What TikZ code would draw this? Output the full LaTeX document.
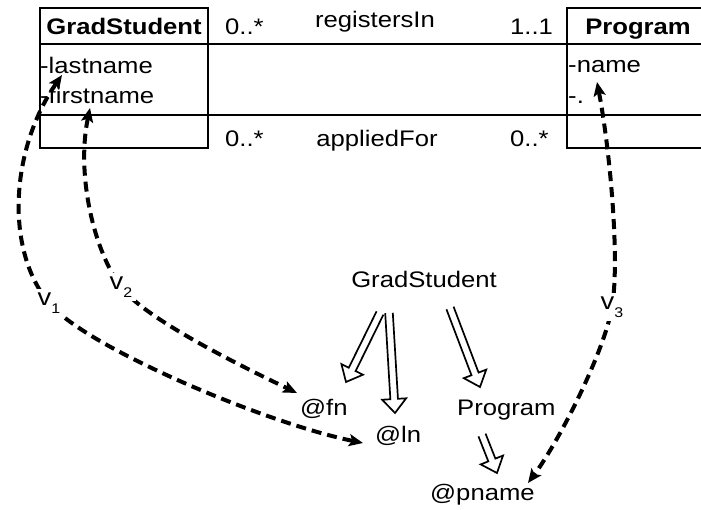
\documentclass[tikz,border=0pt]{standalone}
\usepackage{fontspec}
\newfontfamily\diagfont[FakeStretch=1.14]{Liberation Sans}
\usetikzlibrary{calc}
\usetikzlibrary{arrows.meta}
\usetikzlibrary{positioning}
\tikzset{
    txt/.style = {font=\diagfont\fontsize{22.5}{26}\selectfont, inner sep=0pt},
    cname/.style = {txt, font=\diagfont\bfseries\fontsize{22.5}{26}\selectfont, anchor=base},
    attr/.style = {txt, anchor=base west},
    classbox/.style = {draw, line width=1.8pt, minimum height=140pt, inner sep=0pt},
    partline/.style = {line width=1.8pt},
    hollow/.style = {line width=1.7pt, line join=miter},
    vlink/.style = {<->, line width=4pt, dash pattern=on 10pt off 6pt},
    vlabel/.style = {txt, font=\diagfont\fontsize{24}{28}\selectfont, fill=white, inner sep=4pt}
}
\newcommand{\hollowarrow}[2]{%
    \draw[hollow] let \p1=(#1), \p2=(#2),
        \n1={atan2(\y2-\y1,\x2-\x1)}, \n2={veclen(\x2-\x1,\y2-\y1)} in
        [shift={(\x1,\y1)}, rotate=\n1]
        (0,-3.8) -- ({\n2-14},-3.8) -- ({\n2-14},-12) -- (\n2,0)
        -- ({\n2-14},12) -- ({\n2-14},3.8) -- (0,3.8);}

\begin{document}
\begin{tikzpicture}
    [x=1pt, y=1pt, >={Stealth[length=14pt,width=12pt,inset=3pt]}]
    \useasboundingbox (0,0) rectangle (701,-510);

    % class boxes
    \node [classbox, minimum width=168pt] (gsbox) at (124,-78) {};
    \node [classbox, minimum width=160pt, anchor=west] (pgbox) at (566,-78) {};
    \foreach \y in {-44,-115}
        \draw [partline] (gsbox.west |- 0,\y) -- (pgbox.east |- 0,\y);

    \node [cname] (gsname) at (124,-35) {GradStudent};
    \node [cname] (pgname) at (638,-35) {Program};
    \node [attr] (lname) at (40,-74) {-lastname};
    \node [attr] (fname) at (40,-104) {-firstname};
    \node [attr] (aname) at (568,-73) {-name};
    \node [attr] (adots) at (568,-104) {-.};

    % associations
    \node [attr] (m1) at (225,-35) {0..*};
    \node [txt, anchor=base] (reg) at (375,-28) {registersIn};
    \node [attr] (m2) at (510,-35) {1..1};
    \node [attr] (m3) at (225,-147) {0..*};
    \node [txt, anchor=base] (app) at (377,-147) {appliedFor};
    \node [attr] (m4) at (510,-147) {0..*};

    % target tree
    \node [txt, anchor=base] (gs) at (424,-288) {GradStudent};
    \node [attr] (fn) at (300,-415) {@fn};
    \node [attr] (ln) at (375,-442) {@ln};
    \node [attr] (prog) at (457,-415) {Program};
    \node [attr] (pn) at (430,-500) {@pname};

    \hollowarrow{$(gs.base)+(-44,-25)$}{$(fn.base west)+(46,33)$}
    \hollowarrow{$(gs.base)+(-35,-25)$}{$(ln.base west)+(20,29)$}
    \hollowarrow{$(gs.base)+(26,-20)$}{$(prog.base west)+(23,28)$}
    \hollowarrow{$(prog.base west)+(25,-20)$}{$(pn.base west)+(67,27)$}

    % value links
    \draw [vlink] ($(lname.base west)+(22,-1)$)
        .. controls (10,-150) and (5,-250) .. (49,-303)
        node [vlabel] (v1) {v\raisebox{-8pt}{\fontsize{14}{14}\selectfont 1}}
        .. controls (85,-347) and (265,-423) .. ($(ln.base west)+(-12,-1)$);
    \draw [vlink] ($(fname.base west)+(50,-4)$)
        .. controls (76,-175) and (94,-251) .. (121,-287)
        node [vlabel] (v2) {v\raisebox{-8pt}{\fontsize{14}{14}\selectfont 2}}
        .. controls (145,-319) and (243,-367) .. ($(fn.base west)+(-3,22)$);
    \draw [vlink] ($(aname.base west)+(29,-9)$)
        .. controls (610,-150) and (620,-260) .. (612,-307)
        node [vlabel] (v3) {v\raisebox{-8pt}{\fontsize{14}{14}\selectfont 3}}
        .. controls (605,-350) and (560,-440) .. ($(pn.base west)+(98,17)$);
\end{tikzpicture}
\end{document}
